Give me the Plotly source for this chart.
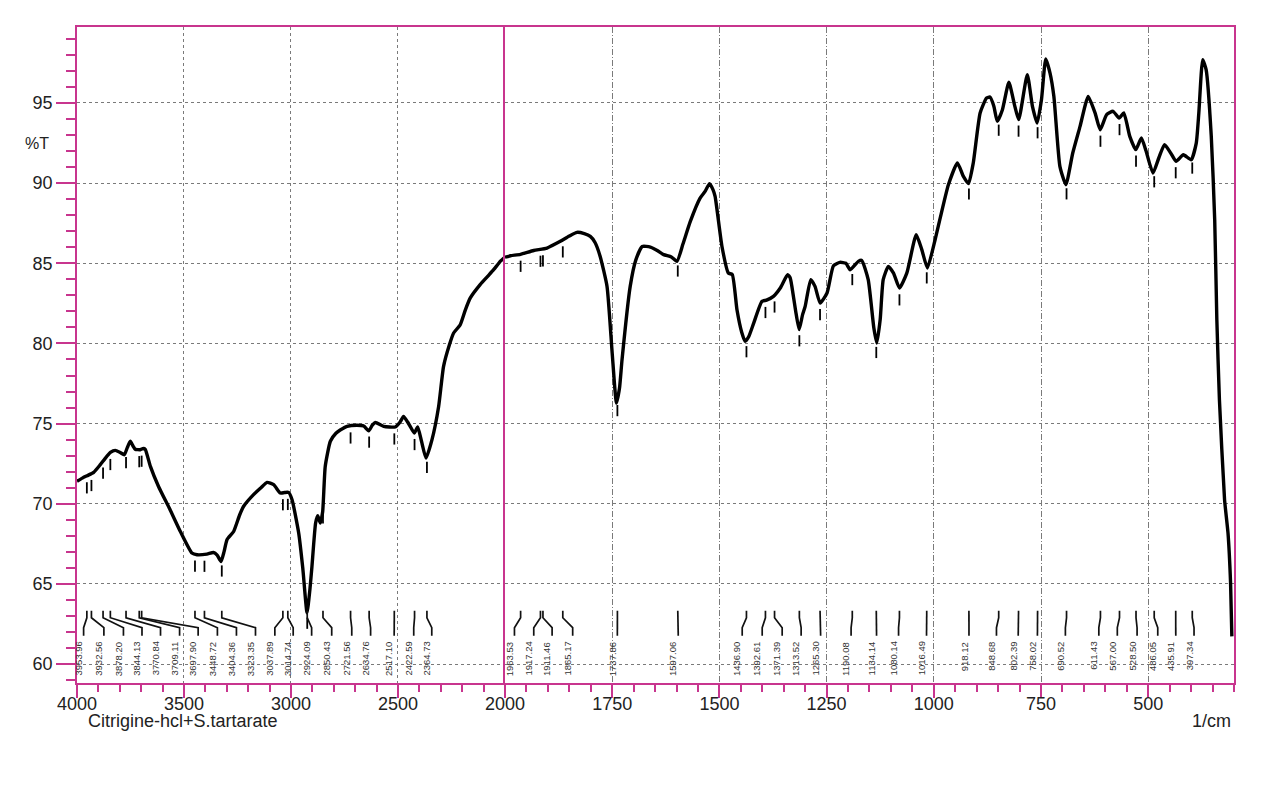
import numpy as np
import plotly.graph_objects as go

# ---------------- data ----------------
wavenumber = [4000, 3975, 3953, 3922, 3891, 3870, 3844, 3821, 3798, 3779, 3765, 3751, 3738, 3728,
              3704, 3690, 3681, 3657, 3619, 3564, 3517, 3463, 3439, 3393, 3362, 3345, 3327, 3313,
              3299, 3268, 3240, 3222, 3175, 3140, 3112, 3081, 3050, 3030, 3011, 2995, 2964, 2945,
              2925, 2912, 2902, 2885, 2875, 2863, 2852, 2840, 2816, 2790, 2770, 2738, 2692, 2660,
              2637, 2620, 2606, 2567, 2513, 2490, 2474, 2455, 2443, 2424, 2408, 2390, 2369, 2341,
              2310, 2287, 2260, 2240, 2209, 2185, 2162, 2116, 2080, 2053, 2020, 2000,
              1987, 1964, 1933, 1902, 1871, 1850, 1832, 1815, 1801, 1790, 1778, 1762, 1750, 1740,
              1733, 1727, 1708, 1695, 1680, 1661, 1645, 1630, 1612, 1599, 1585, 1568, 1545, 1533,
              1523, 1515, 1510, 1494, 1479, 1470, 1459, 1448, 1440, 1432, 1420, 1401, 1390, 1374,
              1358, 1341, 1335, 1331, 1322, 1314, 1306, 1300, 1287, 1277, 1265, 1249, 1234, 1219,
              1205, 1195, 1176, 1168, 1153, 1140, 1133, 1125, 1118, 1106, 1094, 1080, 1063, 1041,
              1028, 1015, 997, 986, 966, 945, 931, 919, 908, 892, 877, 869, 860, 852, 840, 825,
              811, 802, 782, 770, 759, 749, 739, 729, 720, 706, 692, 676, 659, 640, 624, 612, 597,
              582, 568, 557, 543, 529, 516, 505, 489, 475, 462, 448, 435, 418, 400, 388, 382, 373,
              365, 353, 345, 340, 334, 322, 314, 308, 305]
transmittance = [71.4, 71.6, 71.75, 71.96, 72.44, 72.8, 73.2, 73.33, 73.2, 73.06, 73.5, 73.9, 73.6, 73.4,
                 73.37, 73.45, 73.4, 72.33, 71.08, 69.6, 68.27, 66.93, 66.82, 66.86, 66.96, 66.8, 66.4, 67.0,
                 67.76, 68.27, 69.3, 69.83, 70.57, 71.0, 71.33, 71.19, 70.67, 70.7, 70.71, 70.25, 68.18, 66.0,
                 63.2, 64.6, 66.1, 68.8, 69.25, 68.8, 69.5, 72.33, 73.9, 74.4, 74.6, 74.83, 74.9, 74.85,
                 74.55, 74.9, 75.07, 74.83, 74.79, 75.1, 75.45, 75.1, 74.83, 74.41, 74.79, 73.9, 72.85, 74.0,
                 76.07, 78.57, 79.9, 80.65, 81.17, 82.1, 82.84, 83.67, 84.2, 84.6, 85.15, 85.38,
                 85.47, 85.56, 85.8, 85.95, 86.37, 86.7, 86.93, 86.85, 86.68, 86.3, 85.43, 83.56, 79.4, 76.28,
                 77.2, 78.99, 83.56, 85.2, 86.05, 86.01, 85.8, 85.54, 85.4, 85.12, 86.2, 87.6, 89.07, 89.5,
                 89.97, 89.6, 89.17, 86.05, 84.39, 84.3, 82.1, 80.7, 80.13, 80.4, 81.27, 82.62, 82.7, 82.94,
                 83.46, 84.29, 84.1, 83.56, 82.0, 80.86, 81.8, 82.31, 83.98, 83.56, 82.52, 83.15, 84.85, 85.06,
                 85.0, 84.6, 85.12, 85.18, 83.98, 81.0, 80.03, 81.5, 83.98, 84.81, 84.39, 83.46, 84.39, 86.78,
                 85.85, 84.71, 86.47, 87.72, 89.9, 91.26, 90.42, 89.97, 91.26, 94.38, 95.31, 95.37, 94.8, 93.85, 94.58, 96.29,
                 94.79, 93.96, 96.77, 94.79, 93.75, 95.2, 97.75, 96.87, 95.41, 91.05, 89.9, 91.88, 93.54, 95.41, 94.38, 93.33, 94.27,
                 94.48, 94.06, 94.38, 92.92, 92.09, 92.82, 92.0, 90.63, 91.6, 92.4, 91.9, 91.36, 91.77, 91.46, 92.5, 94.38, 97.7,
                 97.08, 92.92, 87.72, 81.48, 76.49, 70.25, 68.18, 65.06, 61.73]

# peaks of the high-wavenumber part (4000-2000) and their printed labels
peaks_high = [3953.96, 3932.56, 3878.20, 3844.13, 3770.84, 3709.11, 3697.90, 3448.72, 3404.36,
              3323.35, 3037.89, 3014.74, 2924.09, 2850.43, 2721.56, 2634.76, 2517.10, 2422.59, 2364.73]
# where each label's leader line ends (same axis units)
label_pos_high = [3969.1, 3874.4, 3783.0, 3696.3, 3609.7, 3520.6, 3433.9, 3343.9, 3254.9,
                  3165.9, 3075.4, 2989.7, 2903.5, 2809.7, 2716.0, 2627.9, 2517.8, 2426.4, 2342.1]

# peaks of the low-wavenumber part (2000-300)
peaks_low = [1963.53, 1917.24, 1911.46, 1865.17, 1737.86, 1597.06, 1436.90, 1392.61, 1371.39,
             1313.52, 1265.30, 1190.08, 1134.14, 1080.14, 1016.49, 918.12, 848.68, 802.39, 758.02,
             690.52, 611.43, 567.00, 528.50, 486.05, 435.91, 397.34]
label_pos_low = [1977.9, 1932.9, 1890.1, 1842.1, 1737.9, 1595.9, 1446.8, 1400.2, 1353.6,
                 1309.4, 1263.9, 1192.9, 1133.5, 1082.2, 1017.0, 918.0, 853.9, 803.2, 758.4,
                 693.2, 615.2, 572.1, 526.0, 477.8, 435.8, 393.2]

x_ticks_high = [4000, 3500, 3000, 2500]
x_ticks_low = [2000, 1750, 1500, 1250, 1000, 750, 500]
y_ticks = [60, 65, 70, 75, 80, 85, 90, 95]

# ---------------- styling ----------------
MAG = "#c8358e"
GRID = "#7a7a7a"
FONT = "Liberation Sans, Arial, sans-serif"
Y_RANGE = [58.82, 99.74]
SPLIT = 0.3699

wn = np.array(wavenumber, dtype=float)
tr = np.array(transmittance, dtype=float)
order = np.argsort(wn)
wn_s, tr_s = wn[order], tr[order]

fig = go.Figure()

hi = wn >= 2000
lo = wn <= 2000
line_style = dict(color="black", width=3.4, shape="spline", smoothing=0.5)
fig.add_trace(go.Scatter(x=wn[hi], y=tr[hi], mode="lines", line=line_style,
                         xaxis="x", yaxis="y", showlegend=False, hoverinfo="x+y"))
fig.add_trace(go.Scatter(x=wn[lo], y=tr[lo], mode="lines", line=line_style,
                         xaxis="x2", yaxis="y2", showlegend=False, hoverinfo="x+y"))

# leader-line heights (data units of %T)
Y_TOP, Y_BEND1, Y_BEND2, Y_BOT, Y_LABEL = 63.33, 62.89, 62.27, 61.77, 61.45


def add_peaks(peaks, lpos, xa, ya):
    pk = np.array(peaks)
    ymark = np.interp(pk, wn_s, tr_s) - 0.75
    fig.add_trace(go.Scatter(x=pk, y=ymark, mode="markers",
                             marker=dict(symbol="line-ns", size=8,
                                         line=dict(color="black", width=1.8)),
                             xaxis=xa, yaxis=ya, showlegend=False, hoverinfo="skip"))
    lx, ly = [], []
    for p, l in zip(peaks, lpos):
        lx += [p, p, l, l, None]
        ly += [Y_TOP, Y_BEND1, Y_BEND2, Y_BOT, None]
    fig.add_trace(go.Scatter(x=lx, y=ly, mode="lines", line=dict(color="#111", width=1.7),
                             xaxis=xa, yaxis=ya, showlegend=False, hoverinfo="skip"))
    xref = "x" if xa == "x" else "x2"
    yref = "y" if ya == "y" else "y2"
    for p, l in zip(peaks, lpos):
        fig.add_annotation(x=l, y=Y_LABEL, xref=xref, yref=yref, text=f"{p:.2f}",
                           textangle=-90, showarrow=False, xanchor="center", yanchor="top",
                           xshift=-5, borderpad=0,
                           font=dict(family=FONT, size=9.5, color="#333"))


add_peaks(peaks_high, label_pos_high, "x", "y")
add_peaks(peaks_low, label_pos_low, "x2", "y2")

axis_common = dict(showline=True, linecolor=MAG, linewidth=1.8, zeroline=False,
                   tickcolor=MAG, tickwidth=1.6,
                   tickfont=dict(family=FONT, size=18, color="#222"), showgrid=True,
                   gridcolor=GRID, gridwidth=1)

fig.update_layout(
    width=1250, height=770,
    margin=dict(l=69, r=24, t=19, b=95),
    paper_bgcolor="white", plot_bgcolor="white",
    xaxis=dict(domain=[0, SPLIT], range=[4000, 2000], tickvals=x_ticks_high, ticks="outside",
               ticklen=13, ticklabelstandoff=-10, griddash="dot", anchor="y", mirror=True,
               minor=dict(dtick=100, ticks="outside", ticklen=7, tickcolor=MAG, tickwidth=1.6,
                          showgrid=False),
               **axis_common),
    xaxis2=dict(domain=[SPLIT, 1], range=[2000, 300], tickvals=x_ticks_low, ticks="outside",
                ticklen=13, ticklabelstandoff=-10, griddash="6px,2px,1px,2px", anchor="y2",
                mirror=True,
                minor=dict(dtick=50, ticks="outside", ticklen=7, tickcolor=MAG, tickwidth=1.6,
                           showgrid=False),
                **axis_common),
    yaxis=dict(domain=[0, 1], range=Y_RANGE, tickvals=y_ticks, ticks="outside", ticklen=19,
               griddash="dot", anchor="x", mirror=False,
               minor=dict(dtick=1, ticks="outside", ticklen=9, tickcolor=MAG, tickwidth=1.6,
                          showgrid=False),
               **axis_common),
    yaxis2=dict(domain=[0, 1], range=Y_RANGE, matches="y", anchor="x2", tickvals=y_ticks,
                showticklabels=False, ticks="", griddash="dot", mirror=True, **axis_common),
)

fig.add_annotation(text="%T", xref="paper", yref="y", x=-0.0346, y=92.5, showarrow=False,
                   xanchor="center", yanchor="middle", font=dict(family=FONT, size=16, color="#222"))
fig.add_annotation(text="Citrigine-hcl+S.tartarate", xref="paper", yref="paper", x=0.0078,
                   y=-0.0585, showarrow=False, xanchor="left", yanchor="middle",
                   font=dict(family=FONT, size=18, color="#222"))
fig.add_annotation(text="1/cm", xref="paper", yref="paper", x=0.9991, y=-0.0585, showarrow=False,
                   xanchor="right", yanchor="middle", font=dict(family=FONT, size=18, color="#222"))

fig.write_html("out.html")
